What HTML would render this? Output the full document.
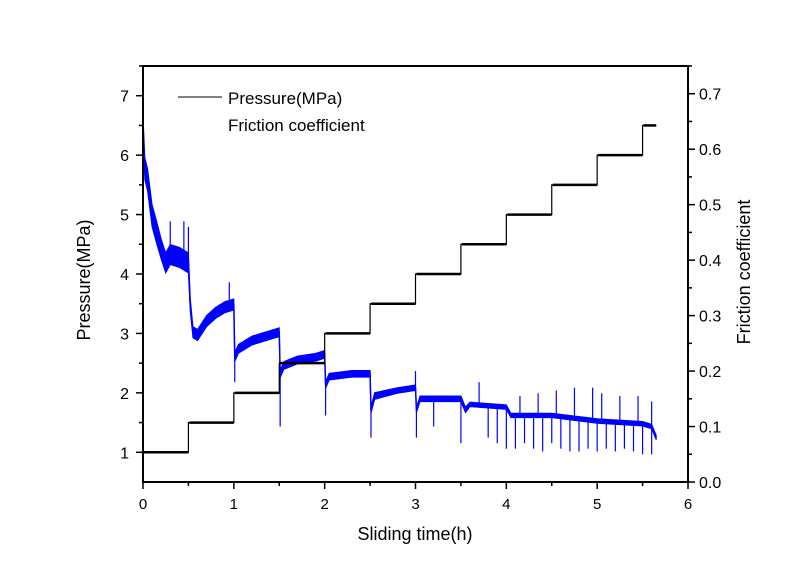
<!DOCTYPE html>
<html><head><meta charset="utf-8"><style>
html,body{margin:0;padding:0;background:#fff}
svg{display:block;font-family:"Liberation Sans",Arial,sans-serif}
</style></head><body>
<svg id="chart" width="800" height="579" viewBox="0 0 800 579">
<g id="plot"></g>
<g>
<line x1="178" y1="97" x2="222" y2="97" stroke="#000" stroke-width="1"/>
<text x="228" y="104" font-size="17">Pressure(MPa)</text>
<text x="228" y="131" font-size="17">Friction coefficient</text>
</g>
<text x="415" y="540" text-anchor="middle" font-size="18">Sliding time(h)</text>
<text x="90" y="280" text-anchor="middle" font-size="18" transform="rotate(-90 90 280)">Pressure(MPa)</text>
<text x="750" y="272" text-anchor="middle" font-size="18" transform="rotate(-90 750 272)">Friction coefficient</text>
</svg>
<script>
// Pressure steps (MPa)
const stepTimes = [0,0.5,1,1.5,2,2.5,3,3.5,4,4.5,5,5.5];
const stepPressures = [1,1.5,2,2.5,3,3.5,4,4.5,5,5.5,6,6.5];
const stepEnd = 5.65;
// Friction coefficient key points
const fricTimes = [0,0.02,0.05,0.1,0.15,0.2,0.25,0.3,0.4,0.5,0.52,0.55,0.6,0.7,0.8,0.9,1.0,1.01,1.05,1.2,1.4,1.5,1.51,1.55,1.7,1.9,2.0,2.01,2.05,2.3,2.5,2.51,2.55,2.8,3.0,3.01,3.05,3.5,3.55,3.6,4.0,4.05,4.5,5.0,5.5,5.6,5.65];
const fricValues = [0.64,0.565,0.545,0.48,0.45,0.42,0.395,0.41,0.405,0.395,0.32,0.27,0.265,0.29,0.305,0.315,0.32,0.225,0.24,0.255,0.265,0.27,0.195,0.21,0.22,0.225,0.23,0.175,0.19,0.195,0.195,0.13,0.155,0.165,0.17,0.13,0.15,0.15,0.13,0.14,0.135,0.12,0.12,0.11,0.105,0.1,0.08];
const fricBand = [0.02,0.02,0.02,0.02,0.02,0.018,0.018,0.018,0.018,0.018,0.012,0.01,0.01,0.01,0.01,0.01,0.01,0.008,0.008,0.008,0.008,0.008,0.007,0.007,0.007,0.007,0.007,0.006,0.006,0.006,0.006,0.006,0.006,0.005,0.005,0.005,0.005,0.005,0.005,0.004,0.004,0.004,0.004,0.004,0.004,0.004,0.004];
// downward spikes (time, min friction)
const spikeTimes = [1.01,1.51,2.01,2.51,3.01,3.2,3.5,3.8,3.9,4.0,4.1,4.2,4.3,4.4,4.5,4.6,4.7,4.8,4.9,5.0,5.1,5.2,5.3,5.4,5.5,5.6];
const spikeValues = [0.18,0.1,0.12,0.08,0.08,0.1,0.07,0.08,0.07,0.06,0.06,0.07,0.06,0.055,0.07,0.06,0.055,0.055,0.06,0.055,0.06,0.055,0.06,0.055,0.05,0.05];
// upward spikes
const upTimes = [0.3,0.45,0.5,0.95,3.0,3.7,4.15,4.35,4.55,4.75,4.95,5.05,5.25,5.45,5.6];
const upValues = [0.47,0.47,0.46,0.36,0.2,0.18,0.155,0.16,0.165,0.17,0.17,0.16,0.155,0.155,0.145];
const xTicks = [0,1,2,3,4,5,6];
const yTicks = [1,2,3,4,5,6,7];
const rTicks = [0.0,0.1,0.2,0.3,0.4,0.5,0.6,0.7];

const L=143,R=688,T=66,B=482;
const X=t=>L+(t-0)/(6-0)*(R-L);
const Y=p=>B-(p-0.5)/(7.5-0.5)*(B-T);
const YR=f=>B-f/0.75*(B-T);
const NS="http://www.w3.org/2000/svg";
const g=document.getElementById('plot');
function mk(tag,attrs){const e=document.createElementNS(NS,tag);for(const k in attrs)e.setAttribute(k,attrs[k]);g.appendChild(e);return e;}

let up=[],dn=[];
fricTimes.forEach((t,i)=>{up.push(X(t)+','+YR(fricValues[i]+fricBand[i]));dn.unshift(X(t)+','+YR(fricValues[i]-fricBand[i]));});
const band=mk('polygon',{points:up.concat(dn).join(' '),fill:'#0000ff',stroke:'#0000ff','stroke-width':1});


const fl=mk('polyline',{points:fricTimes.map((t,i)=>X(t)+','+YR(fricValues[i])).join(' '),fill:'none',stroke:'#0000ff','stroke-width':1.5});


function interp(t){for(let i=1;i<fricTimes.length;i++){if(t<=fricTimes[i]){const a=fricTimes[i-1],b=fricTimes[i];const u=b===a?1:(t-a)/(b-a);return fricValues[i-1]+u*(fricValues[i]-fricValues[i-1]);}}return fricValues[fricValues.length-1];}
spikeTimes.forEach((t,i)=>{const s=mk('line',{x1:X(t),x2:X(t),y1:YR(interp(t)),y2:YR(spikeValues[i]),stroke:'#0000ff','stroke-width':1.2});

});
upTimes.forEach((t,i)=>{const s=mk('line',{x1:X(t),x2:X(t),y1:YR(interp(t)),y2:YR(upValues[i]),stroke:'#0000ff','stroke-width':1.2});

});

let pp=[];
stepTimes.forEach((t,i)=>{const e=i<stepTimes.length-1?stepTimes[i+1]:stepEnd;pp.push(X(t)+','+Y(stepPressures[i]));pp.push(X(e)+','+Y(stepPressures[i]));});
const pl=mk('polyline',{points:pp.join(' '),fill:'none',stroke:'#000','stroke-width':1.2});


stepTimes.forEach((t,i)=>{const e=i<stepTimes.length-1?stepTimes[i+1]:stepEnd;const s=mk('line',{x1:X(t)+1,x2:X(e),y1:Y(stepPressures[i]),y2:Y(stepPressures[i]),stroke:'#000','stroke-width':2.5});

});

const fr=mk('rect',{x:L,y:T,width:R-L,height:B-T,fill:'none',stroke:'#000','stroke-width':2});



xTicks.forEach(v=>{mk('line',{x1:X(v),x2:X(v),y1:B,y2:B+7,stroke:'#000','stroke-width':1.5});
if(v<6)mk('line',{x1:X(v+0.5),x2:X(v+0.5),y1:B,y2:B+4,stroke:'#000','stroke-width':1.5});
const tx=mk('text',{x:X(v),y:B+27,'text-anchor':'middle','font-size':15});tx.textContent=v;

});
yTicks.forEach(v=>{mk('line',{x1:L-7,x2:L,y1:Y(v),y2:Y(v),stroke:'#000','stroke-width':1.5});
mk('line',{x1:L-4,x2:L,y1:Y(v+0.5),y2:Y(v+0.5),stroke:'#000','stroke-width':1.5});
const tx=mk('text',{x:L-14,y:Y(v)+6,'text-anchor':'end','font-size':16});tx.textContent=v;

});
rTicks.forEach(v=>{mk('line',{x1:R,x2:R+7,y1:YR(v),y2:YR(v),stroke:'#000','stroke-width':1.5});
mk('line',{x1:R,x2:R+4,y1:YR(v+0.05),y2:YR(v+0.05),stroke:'#000','stroke-width':1.5});
const tx=mk('text',{x:R+11,y:YR(v)+6,'font-size':16});tx.textContent=v.toFixed(1);

});
</script>
</body></html>
